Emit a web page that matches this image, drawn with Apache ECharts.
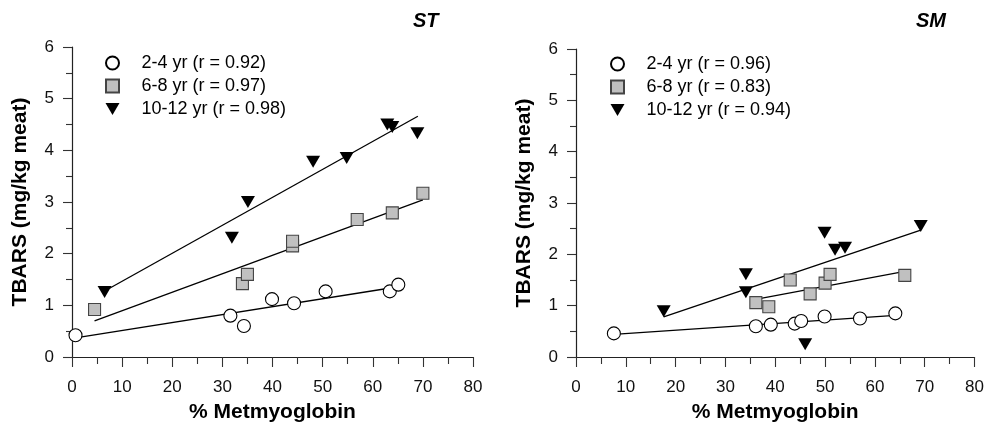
<!DOCTYPE html>
<html>
<head>
<meta charset="utf-8">
<script src="https://cdn.jsdelivr.net/npm/echarts@6/dist/echarts.min.js"></script>
<style>html,body{margin:0;padding:0;background:#fff;}#c{width:987px;height:428px;}</style>
</head>
<body>
<div id="c"></div>
<script>
// ---- Data ----
const panelTitles = ['ST', 'SM'];
const xAxisName = '% Metmyoglobin';
const yAxisName = 'TBARS (mg/kg meat)';

const stLegend = ['2-4 yr (r = 0.92)', '6-8 yr (r = 0.97)', '10-12 yr (r = 0.98)'];
const smLegend = ['2-4 yr (r = 0.96)', '6-8 yr (r = 0.83)', '10-12 yr (r = 0.94)'];

// ST panel points [x, y]
const st24 = [[0.7,0.42],[31.6,0.80],[34.3,0.60],[39.9,1.12],[44.3,1.04],[50.6,1.27],[63.4,1.27],[65.1,1.40]];
const st68 = [[4.5,0.92],[34.0,1.42],[35.0,1.60],[44.0,2.15],[44.0,2.24],[56.9,2.66],[63.9,2.79],[70.0,3.17]];
const st1012 = [[6.5,1.26],[31.9,2.31],[35.1,3.00],[48.1,3.78],[54.8,3.85],[62.9,4.50],[63.9,4.45],[68.9,4.33]];
// ST regression line endpoints
const st24Fit = [[0.7,0.37],[65.1,1.36]];
const st68Fit = [[4.5,0.70],[70.0,3.04]];
const st1012Fit = [[7.5,1.33],[69.0,4.66]];

// SM panel points [x, y]
const sm24 = [[7.6,0.46],[36.1,0.60],[39.1,0.63],[43.9,0.65],[45.2,0.70],[49.9,0.79],[57.0,0.75],[64.1,0.85]];
const sm68 = [[36.1,1.06],[38.7,0.98],[43.0,1.50],[47.0,1.23],[50.0,1.44],[51.0,1.61],[66.0,1.59]];
const sm1012 = [[17.6,0.89],[34.1,1.61],[34.1,1.26],[46.0,0.25],[49.9,2.42],[52.0,2.09],[54.0,2.13],[69.2,2.55]];
// SM regression line endpoints
const sm24Fit = [[7.6,0.44],[64.1,0.81]];
const sm68Fit = [[37.1,1.14],[66.0,1.67]];
const sm1012Fit = [[17.6,0.78],[69.2,2.47]];

// ---- Styles ----
const FONT = 'Liberation Sans, Arial, sans-serif';
const triPath = 'path://M0,0 L14,0 L7,12 Z';
const sqPath = 'path://M0,0 L10,0 L10,10 L0,10 Z';
const markerStyles = [
  {symbol:'circle', symbolSize:13, itemStyle:{color:'#ffffff', borderColor:'#000', borderWidth:1.1, opacity:1}},
  {symbol:sqPath, symbolSize:12, itemStyle:{color:'#c0c0c0', borderColor:'#444', borderWidth:1.1, opacity:1}},
  {symbol:triPath, symbolSize:[14,12], itemStyle:{color:'#000', borderColor:'#000', borderWidth:0, opacity:1}}
];

function xAxisFor(i){
  return {
    type:'value', gridIndex:i, min:0, max:80, interval:10,
    name:xAxisName, nameLocation:'middle', nameGap:45,
    nameTextStyle:{fontFamily:FONT, fontWeight:'bold', fontSize:21, color:'#000'},
    axisLine:{show:true, onZero:false, lineStyle:{color:'#222', width:1.2}},
    axisTick:{show:true, inside:false, length:10, lineStyle:{color:'#333', width:1.1}},
    minorTick:{show:true, splitNumber:2, length:7, lineStyle:{color:'#333', width:1.1}},
    axisLabel:{margin:22, fontFamily:FONT, fontSize:17, color:'#111'},
    splitLine:{show:false}, minorSplitLine:{show:false}
  };
}
function yAxisFor(i){
  return {
    type:'value', gridIndex:i, min:0, max:6, interval:1,
    name:yAxisName, nameLocation:'middle', nameGap:41,
    nameTextStyle:{fontFamily:FONT, fontWeight:'bold', fontSize:21, color:'#000'},
    axisLine:{show:true, onZero:false, lineStyle:{color:'#222', width:1.2}},
    axisTick:{show:true, inside:false, length:9, lineStyle:{color:'#333', width:1.1}},
    minorTick:{show:true, splitNumber:2, length:6, lineStyle:{color:'#333', width:1.1}},
    axisLabel:{margin:18, fontFamily:FONT, fontSize:17, color:'#111'},
    splitLine:{show:false}, minorSplitLine:{show:false}
  };
}

function scatter(name, data, idx, k){
  const m = markerStyles[k];
  return {type:'scatter', name:name, xAxisIndex:idx, yAxisIndex:idx, data:data,
    symbol:m.symbol, symbolSize:m.symbolSize, itemStyle:m.itemStyle, z:3,
    emphasis:{disabled:true}, silent:true};
}
function fit(data, idx){
  return {type:'line', name:'fit', xAxisIndex:idx, yAxisIndex:idx, data:data,
    showSymbol:false, symbol:'none', lineStyle:{color:'#000', width:1.3}, z:2,
    emphasis:{disabled:true}, silent:true, animation:false};
}
function legendFor(names, left, top){
  return {
    data:names, orient:'vertical', left:left, top:top, padding:0,
    itemWidth:14, itemHeight:13, itemGap:3, selectedMode:false,
    textStyle:{fontFamily:FONT, fontSize:18, color:'#000', lineHeight:20, padding:[0,0,0,17]}
  };
}

const chart = echarts.init(document.getElementById('c'), null, {renderer:'canvas'});
chart.setOption({
  animation:false,
  backgroundColor:'#ffffff',
  title:[
    {text:panelTitles[0], left:413, top:11, padding:0, textStyle:{fontFamily:FONT, fontSize:20, fontWeight:'bold', fontStyle:'italic', color:'#000'}},
    {text:panelTitles[1], left:916, top:11, padding:0, textStyle:{fontFamily:FONT, fontSize:20, fontWeight:'bold', fontStyle:'italic', color:'#000'}}
  ],
  legend:[legendFor(stLegend, 105, 53), legendFor(smLegend, 610, 54)],
  grid:[
    {left:72, top:47, width:401, height:314},
    {left:576, top:49, width:401, height:313}
  ],
  xAxis:[xAxisFor(0), xAxisFor(1)],
  yAxis:[yAxisFor(0), yAxisFor(1)],
  series:[
    fit(st24Fit,0), fit(st68Fit,0), fit(st1012Fit,0),
    scatter(stLegend[0], st24, 0, 0),
    scatter(stLegend[1], st68, 0, 1),
    scatter(stLegend[2], st1012, 0, 2),
    fit(sm24Fit,1), fit(sm68Fit,1), fit(sm1012Fit,1),
    scatter(smLegend[0], sm24, 1, 0),
    scatter(smLegend[1], sm68, 1, 1),
    scatter(smLegend[2], sm1012, 1, 2)
  ]
});
</script>
</body>
</html>
